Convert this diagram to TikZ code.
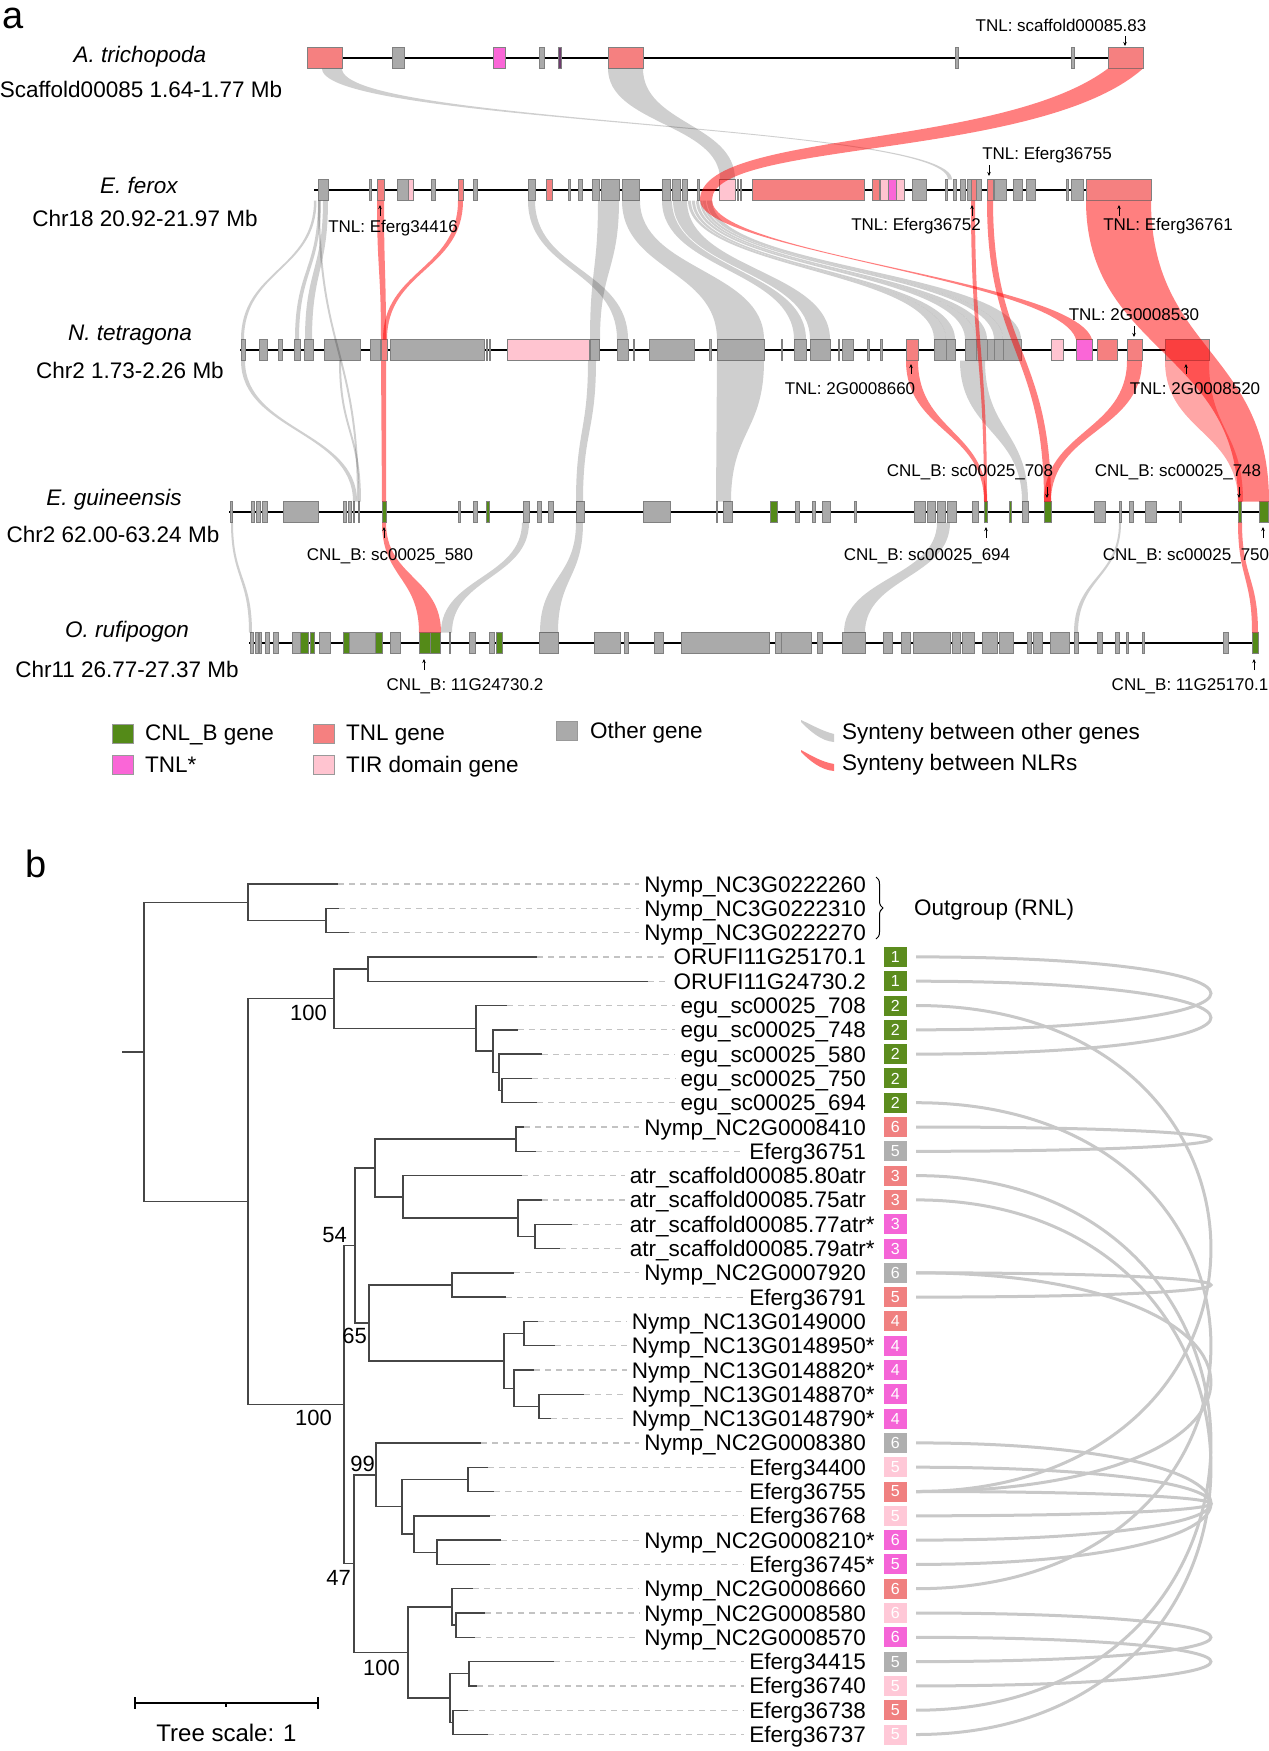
\documentclass[tikz,border=0pt]{standalone}
\usepackage{fontspec}
\setmainfont{Liberation Sans}
\usetikzlibrary{decorations.pathreplacing,arrows.meta}
\definecolor{cT}{RGB}{245,128,128}
\definecolor{cC}{RGB}{84,138,24}
\definecolor{cS}{RGB}{250,102,215}
\definecolor{cI}{RGB}{255,196,208}
\definecolor{cO}{RGB}{170,170,170}
\definecolor{cP}{RGB}{110,60,110}
\definecolor{bG}{RGB}{92,140,30}
\definecolor{bT}{RGB}{240,128,128}
\definecolor{bS}{RGB}{245,100,215}
\definecolor{bO}{RGB}{175,175,175}
\definecolor{bI}{RGB}{255,200,215}
\definecolor{arcC}{RGB}{200,200,200}
\definecolor{dashC}{RGB}{195,195,195}
\definecolor{treeC}{RGB}{70,70,70}
\newcommand{\rib}[7]{\fill[#7] (#1,#3) .. controls (#1,{(#3+#6)/2}) and (#4,{(#3+#6)/2}) .. (#4,#6) -- (#5,#6) .. controls (#5,{(#3+#6)/2}) and (#2,{(#3+#6)/2}) .. (#2,#3) -- cycle;}
\newcommand{\generow}[2]{\foreach \a/\b/\c in {#2} {\fill[\c,draw=black!50,line width=0.4pt] (\a,#1-10.5) rectangle (\b,#1+10.5);}}
\newcommand{\nd}[5]{\draw[tr] (#3,#2) -- (#1,#2) -- (#1,#4) -- (#5,#4);}
\begin{document}
\begin{tikzpicture}[x=1pt,y=-1pt,
  rg/.style={fill=black,fill opacity=0.19},
  rr/.style={fill=red,fill opacity=0.5},
  chr/.style={line width=2.4pt,black},
  sp/.style={anchor=base,inner sep=0,font=\fontsize{22.5}{27}\selectfont\itshape},
  sp2/.style={anchor=base,inner sep=0,font=\fontsize{22.5}{27}\selectfont},
  gl/.style={anchor=base,inner sep=0,font=\fontsize{17}{20}\selectfont},
  ar/.style={line width=0.9pt,-{Stealth[length=4pt,width=3.5pt]}},
  lg/.style={anchor=base west,inner sep=0,font=\fontsize{22.5}{27}\selectfont},
  sq/.style={minimum width=21pt,minimum height=19pt,inner sep=0,draw=black!40,line width=0.4pt},
  tr/.style={treeC,line width=1.4pt},
  dsh/.style={dashC,line width=1.2pt,dash pattern=on 6pt off 5pt},
  lf/.style={anchor=base east,inner sep=0,font=\fontsize{22.5}{27}\selectfont},
  nb/.style={minimum width=23.5pt,minimum height=20pt,inner sep=0,text=white,font=\fontsize{16}{16}\selectfont},
  arcs/.style={arcC,line width=3pt},
  bs/.style={anchor=base east,inner sep=0,font=\fontsize{22}{26}\selectfont}]
\fill[white] (0,0) rectangle (1269,1751);
\useasboundingbox (0,0) rectangle (1269,1751);

% ---------- panel a ----------
\node[anchor=base,inner sep=0,font=\fontsize{38}{40}\selectfont] (pa) at (13,28) {a};

% chromosome lines
\draw[chr] (307,58) -- (1144,58);
\draw[chr] (314,190) -- (1151,190);
\draw[chr] (240,350) -- (1209,350);
\draw[chr] (229,512) -- (1268,512);
\draw[chr] (249,643) -- (1258,643);

% genes
\generow{58}{307/342/cT, 392/404/cO, 493/505/cS, 539/544/cO, 558/561/cP, 608/643/cT, 955/958/cO, 1071/1074/cO, 1108/1143/cT}
\generow{190}{318/328/cO, 369/371/cO, 377/384/cT, 397/408/cO, 408/413/cI, 431/435/cO, 458/463/cT, 473/477/cO, 528/535/cO, 546/552/cT, 568/570/cO, 578/582/cO, 592/599/cO, 601/619/cO, 622/639/cO, 662/670/cO, 672/680/cO, 682/687/cO, 697/699/cO, 719/735/cI, 737/738/cO, 740/741/cO, 752/864/cT, 872/879/cT, 880/888/cI, 888/896/cS, 896/904/cI, 912/926/cO, 945/947/cO, 953/956/cO, 960/965/cO, 967/971/cO, 971/976/cT, 976/981/cO, 987/993/cT, 994/1006/cO, 1013/1022/cO, 1026/1035/cO, 1066/1068/cO, 1071/1083/cO, 1086/1151/cT}
\generow{350}{241/245/cO, 259/267/cO, 278/282/cO, 294/300/cO, 304/313/cO, 324/360/cO, 370/380/cO, 381/387/cT, 390/484/cO, 486/487/cO, 489/490/cO, 507/589/cI, 590/599/cO, 617/628/cO, 633/634/cO, 649/694/cO, 709/711/cO, 717/764/cO, 781/782/cO, 794/806/cO, 810/830/cO, 838/839/cO, 842/853/cO, 867/869/cO, 880/882/cO, 906/918/cT, 934/946/cO, 946/955/cO, 965/976/cO, 976/987/cO, 987/994/cO, 994/1003/cO, 1003/1021/cO, 1051/1063/cI, 1076/1092/cS, 1097/1117/cT, 1127/1142/cT, 1165/1209/cT}
\generow{512}{230/232/cO, 251/254/cO, 256/260/cO, 262/267/cO, 283/318/cO, 343/346/cO, 348/351/cO, 353/354/cO, 358/359/cO, 382/386/cC, 458/460/cO, 473/477/cO, 486/489/cC, 523/529/cO, 537/541/cO, 548/553/cO, 576/584/cO, 643/670/cO, 716/717/cO, 723/732/cO, 770/777/cC, 795/799/cO, 812/815/cO, 822/830/cO, 854/856/cO, 914/925/cO, 927/935/cO, 937/945/cO, 947/956/cO, 972/978/cO, 984/987/cC, 1009/1011/cC, 1022/1028/cO, 1044/1051/cC, 1094/1105/cO, 1119/1121/cO, 1129/1133/cO, 1145/1156/cO, 1179/1181/cO, 1238/1241/cC, 1259/1268/cC}
\generow{643}{250/253/cO, 255/258/cO, 259/261/cO, 265/269/cO, 273/278/cO, 292/300/cO, 300/308/cC, 310/314/cC, 319/330/cO, 343/349/cC, 349/375/cO, 375/382/cC, 390/400/cO, 419/430/cC, 430/440/cC, 449/450/cO, 469/475/cO, 489/494/cO, 496/502/cC, 539/558/cO, 594/620/cO, 624/628/cO, 654/663/cO, 681/769/cO, 775/781/cO, 781/811/cO, 817/822/cO, 842/865/cO, 883/892/cO, 901/910/cO, 913/950/cO, 952/960/cO, 962/974/cO, 982/997/cO, 999/1013/cO, 1027/1031/cO, 1033/1042/cO, 1050/1069/cO, 1074/1078/cO, 1097/1102/cO, 1115/1119/cO, 1126/1128/cO, 1142/1144/cO, 1223/1228/cO, 1252/1258/cC}

% grey synteny
\rib{322}{342}{68.5}{948}{952}{179.5}{rg}
\rib{608}{643}{68.5}{720}{735}{179.5}{rg}
\rib{314}{316.5}{200.5}{241}{244}{339.5}{rg}
\rib{318}{321}{200.5}{295}{299}{339.5}{rg}
\rib{323}{328}{200.5}{305}{312}{339.5}{rg}
\rib{528}{535}{200.5}{617}{628}{339.5}{rg}
\rib{598}{619}{200.5}{590}{600}{339.5}{rg}
\rib{622}{640}{200.5}{717}{764}{339.5}{rg}
\rib{662}{672}{200.5}{794}{806}{339.5}{rg}
\rib{673}{687}{200.5}{810}{830}{339.5}{rg}
\rib{688}{691}{200.5}{934}{946}{339.5}{rg}
\rib{692}{695}{200.5}{946}{955}{339.5}{rg}
\rib{696}{699}{200.5}{965}{976}{339.5}{rg}
\rib{700}{702.5}{200.5}{976}{987}{339.5}{rg}
\rib{703}{706}{200.5}{994}{1003}{339.5}{rg}
\rib{707}{712}{200.5}{1003}{1021}{339.5}{rg}
\rib{318}{320}{200.5}{357}{359}{501.5}{rg}
\rib{241}{245}{360.5}{353}{357}{501.5}{rg}
\rib{339}{341}{360.5}{359}{361}{501.5}{rg}
\rib{588}{596}{360.5}{576}{583}{501.5}{rg}
\rib{717}{764}{360.5}{716}{731}{501.5}{rg}
\rib{960}{985}{360.5}{1022}{1028}{501.5}{rg}
\rib{231}{233}{522.5}{249}{252}{632.5}{rg}
\rib{522}{529}{522.5}{441}{452}{632.5}{rg}
\rib{576}{583}{522.5}{540}{558}{632.5}{rg}
\rib{937}{950}{522.5}{844}{865}{632.5}{rg}
\rib{1119}{1121}{522.5}{1074}{1078}{632.5}{rg}

% NLR synteny
\fill[rr] (1108,68.5) .. controls (1000,150) and (700,130) .. (700,200) .. controls (700,250) and (1060,280) .. (1076,339.5) -- (1092,339.5) .. controls (1075,280) and (712,255) .. (712,200) .. controls (712,140) and (1040,160) .. (1143,68.5) -- cycle;
\rib{377}{384}{200.5}{381}{386}{339.5}{rr}
\rib{458}{463}{200.5}{383}{387}{339.5}{rr}
\rib{971}{975}{200.5}{984}{987}{501.5}{rr}
\rib{987}{993}{200.5}{1044}{1051}{501.5}{rr}
\rib{1086}{1151}{200.5}{1238}{1269}{501.5}{rr}
\rib{381}{386}{360.5}{382}{386}{501.5}{rr}
\rib{906}{918}{360.5}{984}{987}{501.5}{rr}
\rib{1127}{1142}{360.5}{1044}{1051}{501.5}{rr}
\rib{1165}{1209}{360.5}{1238}{1243}{501.5}{fill=red,fill opacity=0.35}
\rib{382}{386}{522.5}{419}{441}{632.5}{rr}
\rib{1238}{1242}{522.5}{1252}{1258}{632.5}{rr}

% species labels
\node[sp] (spA) at (140,62) {A. trichopoda};
\node[sp2] (coA) at (141,97) {Scaffold00085 1.64-1.77 Mb};
\node[sp] (spB) at (139,193) {E. ferox};
\node[sp2] (coB) at (145,226) {Chr18 20.92-21.97 Mb};
\node[sp] (spC) at (130,340) {N. tetragona};
\node[sp2] (coC) at (130,378) {Chr2 1.73-2.26 Mb};
\node[sp] (spD) at (114,505) {E. guineensis};
\node[sp2] (coD) at (113,542) {Chr2 62.00-63.24 Mb};
\node[sp] (spE) at (127,637) {O. rufipogon};
\node[sp2] (coE) at (127,677) {Chr11 26.77-27.37 Mb};

% gene labels and arrows
\node[gl] (g1) at (1061,31) {TNL: scaffold00085.83};
\node[gl] (g2) at (1047,159) {TNL: Eferg36755};
\node[gl] (g3) at (393,232) {TNL: Eferg34416};
\node[gl] (g4) at (916,230) {TNL: Eferg36752};
\node[gl] (g5) at (1168,230) {TNL: Eferg36761};
\node[gl] (g6) at (1134,320) {TNL: 2G0008530};
\node[gl] (g7) at (850,394) {TNL: 2G0008660};
\node[gl] (g8) at (1195,394) {TNL: 2G0008520};
\node[gl] (g9) at (970,476) {CNL\_B: sc00025\_708};
\node[gl] (g10) at (1178,476) {CNL\_B: sc00025\_748};
\node[gl] (g11) at (390,560) {CNL\_B: sc00025\_580};
\node[gl] (g12) at (927,560) {CNL\_B: sc00025\_694};
\node[gl] (g13) at (1186,560) {CNL\_B: sc00025\_750};
\node[gl] (g14) at (465,690) {CNL\_B: 11G24730.2};
\node[gl] (g15) at (1190,690) {CNL\_B: 11G25170.1};
\draw[ar] (1125,36) -- (1125,46);
\draw[ar] (989,165) -- (989,176);
\draw[ar] (380,216) -- (380,205);
\draw[ar] (972,216) -- (972,205);
\draw[ar] (1119,216) -- (1119,205);
\draw[ar] (1134,326) -- (1134,337);
\draw[ar] (911,374) -- (911,364);
\draw[ar] (1186,374) -- (1186,364);
\draw[ar] (1047,487) -- (1047,498);
\draw[ar] (1239,487) -- (1239,498);
\draw[ar] (384,538) -- (384,527);
\draw[ar] (986,538) -- (986,527);
\draw[ar] (1263,538) -- (1263,527);
\draw[ar] (424,670) -- (424,659);
\draw[ar] (1254,670) -- (1254,659);

% legend
\node[sq,fill=cC] (lq1) at (122.5,734) {};
\node[lg] (lt1) at (145,740) {CNL\_B gene};
\node[sq,fill=cS] (lq2) at (122.5,765) {};
\node[lg] (lt2) at (145,772) {TNL*};
\node[sq,fill=cT] (lq3) at (323.5,734) {};
\node[lg] (lt3) at (346,740) {TNL gene};
\node[sq,fill=cI] (lq4) at (323.5,765) {};
\node[lg] (lt4) at (346,772) {TIR domain gene};
\node[sq,fill=cO] (lq5) at (567,731) {};
\node[lg] (lt5) at (590,738) {Other gene};
\fill[black!20] (801,720) .. controls (812,725) and (822,731) .. (834,734) -- (834,742) .. controls (821,741) and (810,731) .. (801,722) -- cycle;
\node[lg] (lt6) at (842,739) {Synteny between other genes};
\fill[red!55] (801,750) .. controls (812,756) and (822,762) .. (834,764) -- (834,771) .. controls (821,770) and (810,761) .. (801,752) -- cycle;
\node[lg] (lt7) at (842,770) {Synteny between NLRs};

% ---------- panel b ----------
\node[anchor=base,inner sep=0,font=\fontsize{38}{40}\selectfont] (pb) at (36,877) {b};

\draw[tr] (122,1051.9) -- (144,1051.9);
\nd{144}{902.2}{248}{1201.6}{248}
\nd{248}{884}{338}{920.45}{326}
\nd{326}{908.3}{339}{932.6}{349}
\nd{248}{998.7}{334}{1404.55}{344}
\nd{334}{969.05}{368}{1028.3}{476}
\nd{368}{956.9}{537}{981.2}{648}
\nd{476}{1005.5}{507}{1051.05}{493}
\nd{493}{1029.8}{518}{1072.3}{499}
\nd{499}{1054.1}{542}{1090.55}{502}
\nd{502}{1078.4}{532}{1102.7}{537}
\nd{344}{1245.45}{355}{1563.65}{354}
\nd{355}{1168}{375}{1322.9}{369}
\nd{375}{1139.15}{516}{1196.9}{403}
\nd{516}{1127}{524}{1151.3}{536}
\nd{403}{1175.6}{522}{1218.1}{518}
\nd{518}{1199.9}{542}{1236.35}{535}
\nd{535}{1224.2}{572}{1248.5}{560}
\nd{369}{1284.95}{452}{1360.9}{504}
\nd{452}{1272.8}{514}{1297.1}{506}
\nd{504}{1333.55}{524}{1388.2}{514}
\nd{524}{1321.4}{538}{1345.7}{555}
\nd{514}{1370}{534}{1406.45}{539}
\nd{539}{1394.3}{584}{1418.6}{551}
\nd{354}{1474.8}{376}{1652.5}{408}
\nd{376}{1442.9}{481}{1506.7}{402}
\nd{402}{1479.35}{468}{1534}{414}
\nd{468}{1467.2}{488}{1491.5}{494}
\nd{414}{1515.8}{490}{1552.25}{437}
\nd{437}{1540.1}{501}{1564.4}{490}
\nd{408}{1606.9}{452}{1698.05}{450}
\nd{452}{1588.7}{473}{1625.15}{456}
\nd{456}{1613}{485}{1637.3}{475}
\nd{450}{1673.75}{469}{1722.35}{453}
\nd{469}{1661.6}{554}{1685.9}{477}
\nd{453}{1710.2}{468}{1734.5}{488}

% bootstrap values
\node[bs] (bs1) at (327,1020) {100};
\node[bs] (bs2) at (347,1242) {54};
\node[bs] (bs3) at (367,1343) {65};
\node[bs] (bs4) at (332,1425) {100};
\node[bs] (bs5) at (375,1471) {99};
\node[bs] (bs6) at (351,1585) {47};
\node[bs] (bs7) at (400,1675) {100};

% leaf labels and dashed guides
\foreach \i/\xe/\t in {1/338/Nymp\_NC3G0222260, 2/339/Nymp\_NC3G0222310, 3/349/Nymp\_NC3G0222270, 4/537/ORUFI11G25170.1, 5/648/ORUFI11G24730.2, 6/507/egu\_sc00025\_708, 7/518/egu\_sc00025\_748, 8/542/egu\_sc00025\_580, 9/532/egu\_sc00025\_750, 10/537/egu\_sc00025\_694, 11/524/Nymp\_NC2G0008410, 12/536/Eferg36751, 13/522/atr\_scaffold00085.80atr, 14/542/atr\_scaffold00085.75atr, 15/572/atr\_scaffold00085.77atr\rlap{*}, 16/560/atr\_scaffold00085.79atr\rlap{*}, 17/514/Nymp\_NC2G0007920, 18/506/Eferg36791, 19/538/Nymp\_NC13G0149000, 20/555/Nymp\_NC13G0148950\rlap{*}, 21/534/Nymp\_NC13G0148820\rlap{*}, 22/584/Nymp\_NC13G0148870\rlap{*}, 23/551/Nymp\_NC13G0148790\rlap{*}, 24/481/Nymp\_NC2G0008380, 25/488/Eferg34400, 26/494/Eferg36755, 27/490/Eferg36768, 28/501/Nymp\_NC2G0008210\rlap{*}, 29/490/Eferg36745\rlap{*}, 30/473/Nymp\_NC2G0008660, 31/485/Nymp\_NC2G0008580, 32/475/Nymp\_NC2G0008570, 33/554/Eferg34415, 34/477/Eferg36740, 35/468/Eferg36738, 36/488/Eferg36737} {
  \pgfmathsetmacro\yy{884+(\i-1)*24.3}
  \coordinate (e\i) at (\xe,\yy);
  \node[lf] (L\i) at (866,\yy+8) {\t};
  \draw[dsh] (e\i) -- ([xshift=-5pt]L\i.west |- e\i);
}

% outgroup brace
\draw[line width=1pt,decorate,decoration={brace,amplitude=7pt}] (876,877) -- (876,939);
\node[lg] (og) at (914,915) {Outgroup (RNL)};

% coloured group boxes
\foreach \i/\c/\n in {4/bG/1, 5/bG/1, 6/bG/2, 7/bG/2, 8/bG/2, 9/bG/2, 10/bG/2, 11/bT/6, 12/bO/5, 13/bT/3, 14/bT/3, 15/bS/3, 16/bS/3, 17/bO/6, 18/bT/5, 19/bT/4, 20/bS/4, 21/bS/4, 22/bS/4, 23/bS/4, 24/bO/6, 25/bI/5, 26/bT/5, 27/bI/5, 28/bS/6, 29/bS/5, 30/bT/6, 31/bI/6, 32/bS/6, 33/bO/5, 34/bI/5, 35/bT/5, 36/bI/5} {
  \pgfmathsetmacro\yy{884+(\i-1)*24.3}
  \node[nb,fill=\c] (B\i) at (895.25,\yy) {\n};
}

% synteny connections
\foreach \a/\b in {4/7, 5/8, 6/26, 10/30, 11/12, 13/35, 14/36, 17/18, 17/26, 24/29, 25/28, 26/27, 31/33, 32/34} {
  \draw[arcs] ([xshift=9pt]B\a.east) .. controls +(393,0) and +(393,0) .. ([xshift=9pt]B\b.east);
}

% tree scale
\draw[line width=2pt] (135,1703) -- (318,1703);
\draw[line width=2pt] (135,1697) -- (135,1709);
\draw[line width=2pt] (318,1697) -- (318,1709);
\draw[line width=1.2pt] (226,1703) -- (226,1707);
\node[anchor=base,inner sep=0,font=\fontsize{24}{28}\selectfont] (ts) at (226.5,1741) {Tree scale: 1};
\end{tikzpicture}
\end{document}
